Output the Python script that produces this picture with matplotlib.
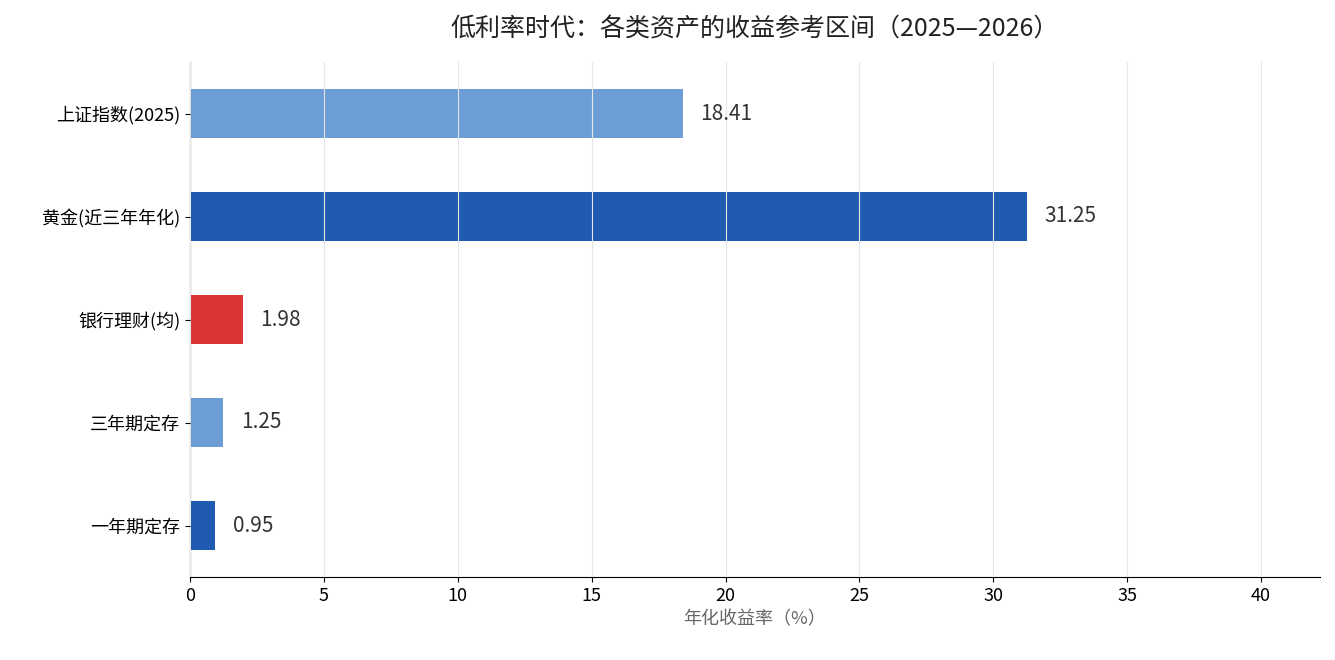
import matplotlib
matplotlib.use("Agg")
from matplotlib import pyplot as plt

plt.rcParams['font.family'] = ['Noto Sans CJK SC', 'DejaVu Sans']

categories = ['上证指数(2025)', '黄金(近三年年化)', '银行理财(均)', '三年期定存', '一年期定存']
values = [18.41, 31.25, 1.98, 1.25, 0.95]
colors = ['#6d9dd5', '#1f5bb0', '#dc3535', '#6d9dd5', '#1f5bb0']
xticks = [0, 5, 10, 15, 20, 25, 30, 35, 40]

fig = plt.figure(figsize=(13.35, 6.6), dpi=100)
ax = fig.add_axes([190/1335, 1-577/660, 1130/1335, 515/660])

y = list(range(len(categories)))[::-1]
ax.barh(y, values, height=0.48, color=colors, zorder=1)
for yi, v in zip(y, values):
    ax.text(v + 0.65, yi, f'{v:.2f}', va='center', ha='left', fontsize=15, color='#333333')

ax.set_yticks(y)
ax.set_yticklabels(categories, fontsize=13)
ax.set_xticks(xticks)
ax.tick_params(axis='x', labelsize=13)
ax.set_xlim(0, 42.2)
ax.set_ylim(-0.5, 4.5)
ax.grid(axis='x', color='#e6e6e6', lw=0.8, zorder=2)
ax.set_axisbelow(False)
for s in ['top', 'right']:
    ax.spines[s].set_visible(False)
ax.set_xlabel('年化收益率（%）', fontsize=13, color='#666666')
ax.set_title('低利率时代：各类资产的收益参考区间（2025—2026）', fontsize=18, color='#222222', pad=18)

fig.savefig('out.png')
